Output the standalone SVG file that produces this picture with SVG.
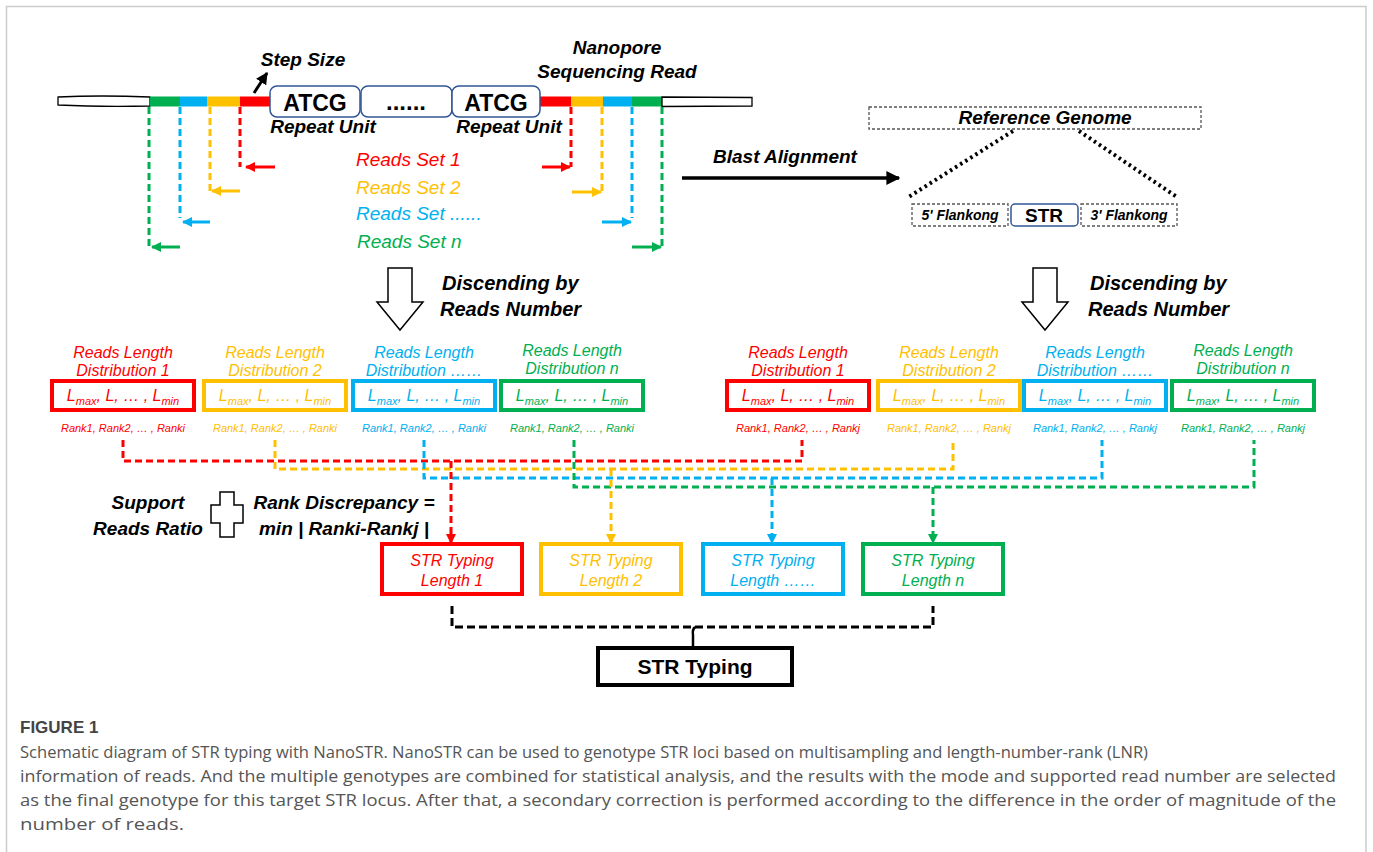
<svg xmlns="http://www.w3.org/2000/svg" width="1373" height="852" viewBox="0 0 1373 852">
<defs>
<style>
text { font-family: "Liberation Sans", Arial, sans-serif; }
.bi { font-weight: bold; font-style: italic; fill: #000; }
.it { font-style: italic; }
.r { fill: #ff0000; } .y { fill: #ffc000; } .b { fill: #00b0f0; } .g { fill: #00b050; }
.sr { stroke: #ff0000; } .sy { stroke: #ffc000; } .sb { stroke: #00b0f0; } .sg { stroke: #00b050; }
.dash { fill: none; stroke-width: 3; stroke-dasharray: 7 4; }
.solid { fill: none; stroke-width: 3; }
.dist { fill: #fff; stroke-width: 4; }
.unit { fill: #fff; stroke: #2f5597; stroke-width: 1.5; }
.gbox { fill: #fff; stroke: #555; stroke-width: 1.3; stroke-dasharray: 3 2; }
.cap { font-family: "Open Sans", "Liberation Sans", sans-serif; fill: #555; font-size: 17px; }
</style>
<marker id="mr" viewBox="0 0 10 10" refX="9" refY="5" markerWidth="10" markerHeight="10" markerUnits="userSpaceOnUse" orient="auto"><path d="M0,0 L10,5 L0,10 z" fill="#ff0000"/></marker>
<marker id="my" viewBox="0 0 10 10" refX="9" refY="5" markerWidth="10" markerHeight="10" markerUnits="userSpaceOnUse" orient="auto"><path d="M0,0 L10,5 L0,10 z" fill="#ffc000"/></marker>
<marker id="mb" viewBox="0 0 10 10" refX="9" refY="5" markerWidth="10" markerHeight="10" markerUnits="userSpaceOnUse" orient="auto"><path d="M0,0 L10,5 L0,10 z" fill="#00b0f0"/></marker>
<marker id="mg" viewBox="0 0 10 10" refX="9" refY="5" markerWidth="10" markerHeight="10" markerUnits="userSpaceOnUse" orient="auto"><path d="M0,0 L10,5 L0,10 z" fill="#00b050"/></marker>
<marker id="mk" viewBox="0 0 10 10" refX="9" refY="5" markerWidth="12" markerHeight="12" markerUnits="userSpaceOnUse" orient="auto"><path d="M0,0 L10,5 L0,10 z" fill="#000"/></marker>
<marker id="mk2" viewBox="0 0 10 10" refX="9" refY="5" markerWidth="16" markerHeight="14" markerUnits="userSpaceOnUse" orient="auto"><path d="M0,0 L10,5 L0,10 z" fill="#000"/></marker>
</defs>
<rect x="0" y="0" width="1373" height="852" fill="#fff"/>
<rect x="6.5" y="6.5" width="1359.5" height="900" fill="none" stroke="#cccccc" stroke-width="1.5"/>

<g id="read">
  <path d="M58,97 Q100,95 150,97 L150,106 Q100,107 58,105 Z" fill="#fff" stroke="#000" stroke-width="1.3"/>
  <rect x="150" y="96.5" width="30" height="10" class="g"/>
  <rect x="180" y="96.5" width="27" height="10" class="b"/>
  <rect x="207" y="96.5" width="33" height="10" class="y"/>
  <rect x="240" y="96.5" width="30" height="10" class="r"/>
  <rect x="540" y="96.5" width="31" height="10" class="r"/>
  <rect x="571" y="96.5" width="32" height="10" class="y"/>
  <rect x="603" y="96.5" width="29" height="10" class="b"/>
  <rect x="632" y="96.5" width="30" height="10" class="g"/>
  <path d="M662,97 L752,97.5 L752,106 L662,106.5 Z" fill="#fff" stroke="#000" stroke-width="1.3"/>
  <rect x="270" y="86" width="90" height="31" rx="7" class="unit"/>
  <rect x="361" y="86" width="91" height="31" rx="7" class="unit"/>
  <rect x="452" y="86" width="88" height="31" rx="7" class="unit"/>
  <text x="315" y="111" font-size="23" font-weight="bold" text-anchor="middle">ATCG</text>
  <text x="406" y="110" font-size="24" font-weight="bold" text-anchor="middle">......</text>
  <text x="496" y="111" font-size="23" font-weight="bold" text-anchor="middle">ATCG</text>
  <text x="323" y="133" font-size="19" class="bi" text-anchor="middle">Repeat Unit</text>
  <text x="509" y="133" font-size="19" class="bi" text-anchor="middle">Repeat Unit</text>
  <text x="303" y="66" font-size="19" class="bi" text-anchor="middle">Step Size</text>
  <line x1="254" y1="93" x2="267" y2="73" stroke="#000" stroke-width="3" marker-end="url(#mk)"/>
  <text x="617" y="54" font-size="19" class="bi" text-anchor="middle">Nanopore</text>
  <text x="617" y="78" font-size="19" class="bi" text-anchor="middle">Sequencing Read</text>
</g>

<g id="reads-sets">
  <text x="356" y="166" font-size="19" class="it r">Reads Set 1</text>
  <text x="356" y="194" font-size="19" class="it y">Reads Set 2</text>
  <text x="356" y="220" font-size="19" class="it b">Reads Set ......</text>
  <text x="357" y="248" font-size="19" class="it g">Reads Set n</text>
</g>

<g id="reference">
  <rect x="869" y="107" width="332" height="22" class="gbox"/>
  <text x="1045" y="124" font-size="19" class="bi" text-anchor="middle">Reference Genome</text>
  <line x1="1013" y1="131" x2="907" y2="198" stroke="#000" stroke-width="4" stroke-dasharray="2.5 3.5"/>
  <line x1="1079" y1="131" x2="1177" y2="197" stroke="#000" stroke-width="4" stroke-dasharray="2.5 3.5"/>
  <rect x="912" y="204" width="96" height="22" class="gbox"/>
  <rect x="1011" y="204" width="67" height="22" rx="4" class="unit"/>
  <rect x="1081" y="204" width="96" height="22" class="gbox"/>
  <text x="960" y="220" font-size="14" class="bi" text-anchor="middle">5' Flankong</text>
  <text x="1044" y="222" font-size="19" font-weight="bold" text-anchor="middle">STR</text>
  <text x="1129" y="220" font-size="14" class="bi" text-anchor="middle">3' Flankong</text>
</g>

<g id="blast">
  <text x="713" y="163" font-size="19" class="bi">Blast Alignment</text>
</g>

<g id="discending-left">
  <polygon points="388,268 412,268 412,302 423,302 400,330 377,302 388,302" fill="#fff" stroke="#000" stroke-width="1.5"/>
  <text x="442" y="290" font-size="20" class="bi">Discending by</text>
  <text x="440" y="316" font-size="20" class="bi">Reads Number</text>
</g>
<g id="discending-right">
  <polygon points="1033,268 1057,268 1057,302 1068,302 1045,330 1022,302 1033,302" fill="#fff" stroke="#000" stroke-width="1.5"/>
  <text x="1090" y="290" font-size="20" class="bi">Discending by</text>
  <text x="1088" y="316" font-size="20" class="bi">Reads Number</text>
</g>

<g id="dist-left">
  <g id="dl1">
    <text x="123" y="358" font-size="16" class="it r" text-anchor="middle">Reads Length</text>
    <text x="123" y="376" font-size="16" class="it r" text-anchor="middle">Distribution 1</text>
    <rect x="52" y="381" width="142" height="29" class="dist sr"/>
    <text x="123" y="401" font-size="16" class="it r" text-anchor="middle">L<tspan font-size="11" dy="4">max</tspan><tspan dy="-4">, L, … , L</tspan><tspan font-size="11" dy="4">min</tspan></text>
    <text x="123" y="432" font-size="11" class="it r" text-anchor="middle">Rank1, Rank2, … , Ranki</text>
  </g>
  <g id="dl2">
    <text x="275" y="358" font-size="16" class="it y" text-anchor="middle">Reads Length</text>
    <text x="275" y="376" font-size="16" class="it y" text-anchor="middle">Distribution 2</text>
    <rect x="204" y="381" width="142" height="29" class="dist sy"/>
    <text x="275" y="401" font-size="16" class="it y" text-anchor="middle">L<tspan font-size="11" dy="4">max</tspan><tspan dy="-4">, L, … , L</tspan><tspan font-size="11" dy="4">min</tspan></text>
    <text x="275" y="432" font-size="11" class="it y" text-anchor="middle">Rank1, Rank2, … , Ranki</text>
  </g>
  <g id="dl3">
    <text x="424" y="358" font-size="16" class="it b" text-anchor="middle">Reads Length</text>
    <text x="424" y="376" font-size="16" class="it b" text-anchor="middle">Distribution ……</text>
    <rect x="353" y="381" width="142" height="29" class="dist sb"/>
    <text x="424" y="401" font-size="16" class="it b" text-anchor="middle">L<tspan font-size="11" dy="4">max</tspan><tspan dy="-4">, L, … , L</tspan><tspan font-size="11" dy="4">min</tspan></text>
    <text x="424" y="432" font-size="11" class="it b" text-anchor="middle">Rank1, Rank2, … , Ranki</text>
  </g>
  <g id="dl4">
    <text x="572" y="356" font-size="16" class="it g" text-anchor="middle">Reads Length</text>
    <text x="572" y="374" font-size="16" class="it g" text-anchor="middle">Distribution n</text>
    <rect x="501" y="381" width="142" height="29" class="dist sg"/>
    <text x="572" y="401" font-size="16" class="it g" text-anchor="middle">L<tspan font-size="11" dy="4">max</tspan><tspan dy="-4">, L, … , L</tspan><tspan font-size="11" dy="4">min</tspan></text>
    <text x="572" y="432" font-size="11" class="it g" text-anchor="middle">Rank1, Rank2, … , Ranki</text>
  </g>
</g>

<g id="dist-right">
  <g id="dr1">
    <text x="798" y="358" font-size="16" class="it r" text-anchor="middle">Reads Length</text>
    <text x="798" y="376" font-size="16" class="it r" text-anchor="middle">Distribution 1</text>
    <rect x="727" y="381" width="142" height="29" class="dist sr"/>
    <text x="798" y="401" font-size="16" class="it r" text-anchor="middle">L<tspan font-size="11" dy="4">max</tspan><tspan dy="-4">, L, … , L</tspan><tspan font-size="11" dy="4">min</tspan></text>
    <text x="798" y="432" font-size="11" class="it r" text-anchor="middle">Rank1, Rank2, … , Rankj</text>
  </g>
  <g id="dr2">
    <text x="949" y="358" font-size="16" class="it y" text-anchor="middle">Reads Length</text>
    <text x="949" y="376" font-size="16" class="it y" text-anchor="middle">Distribution 2</text>
    <rect x="878" y="381" width="142" height="29" class="dist sy"/>
    <text x="949" y="401" font-size="16" class="it y" text-anchor="middle">L<tspan font-size="11" dy="4">max</tspan><tspan dy="-4">, L, … , L</tspan><tspan font-size="11" dy="4">min</tspan></text>
    <text x="949" y="432" font-size="11" class="it y" text-anchor="middle">Rank1, Rank2, … , Rankj</text>
  </g>
  <g id="dr3">
    <text x="1095" y="358" font-size="16" class="it b" text-anchor="middle">Reads Length</text>
    <text x="1095" y="376" font-size="16" class="it b" text-anchor="middle">Distribution ……</text>
    <rect x="1024" y="381" width="142" height="29" class="dist sb"/>
    <text x="1095" y="401" font-size="16" class="it b" text-anchor="middle">L<tspan font-size="11" dy="4">max</tspan><tspan dy="-4">, L, … , L</tspan><tspan font-size="11" dy="4">min</tspan></text>
    <text x="1095" y="432" font-size="11" class="it b" text-anchor="middle">Rank1, Rank2, … , Rankj</text>
  </g>
  <g id="dr4">
    <text x="1243" y="356" font-size="16" class="it g" text-anchor="middle">Reads Length</text>
    <text x="1243" y="374" font-size="16" class="it g" text-anchor="middle">Distribution n</text>
    <rect x="1172" y="381" width="142" height="29" class="dist sg"/>
    <text x="1243" y="401" font-size="16" class="it g" text-anchor="middle">L<tspan font-size="11" dy="4">max</tspan><tspan dy="-4">, L, … , L</tspan><tspan font-size="11" dy="4">min</tspan></text>
    <text x="1243" y="432" font-size="11" class="it g" text-anchor="middle">Rank1, Rank2, … , Rankj</text>
  </g>
</g>

<g id="support">
  <text x="148" y="509" font-size="19" class="bi" text-anchor="middle">Support</text>
  <text x="148" y="535" font-size="19" class="bi" text-anchor="middle">Reads Ratio</text>
  <polygon points="220,492 234,492 234,505 243,505 243,523 234,523 234,537 220,537 220,523 211,523 211,505 220,505" fill="#fff" stroke="#000" stroke-width="1.5"/>
  <text x="344" y="509" font-size="19" class="bi" text-anchor="middle">Rank Discrepancy =</text>
  <text x="344" y="535" font-size="19" class="bi" text-anchor="middle">min | Ranki-Rankj |</text>
</g>

<g id="typing-boxes">
  <g id="t1">
    <rect x="382" y="544" width="140" height="50" class="dist sr"/>
    <text x="452" y="566" font-size="16" class="it r" text-anchor="middle">STR Typing</text>
    <text x="452" y="586" font-size="16" class="it r" text-anchor="middle">Length 1</text>
  </g>
  <g id="t2">
    <rect x="541" y="544" width="140" height="50" class="dist sy"/>
    <text x="611" y="566" font-size="16" class="it y" text-anchor="middle">STR Typing</text>
    <text x="611" y="586" font-size="16" class="it y" text-anchor="middle">Length 2</text>
  </g>
  <g id="t3">
    <rect x="703" y="544" width="140" height="50" class="dist sb"/>
    <text x="773" y="566" font-size="16" class="it b" text-anchor="middle">STR Typing</text>
    <text x="773" y="586" font-size="16" class="it b" text-anchor="middle">Length ……</text>
  </g>
  <g id="t4">
    <rect x="863" y="544" width="140" height="50" class="dist sg"/>
    <text x="933" y="566" font-size="16" class="it g" text-anchor="middle">STR Typing</text>
    <text x="933" y="586" font-size="16" class="it g" text-anchor="middle">Length n</text>
  </g>
</g>

<g id="final">
  <rect x="598" y="648" width="194" height="37" fill="#fff" stroke="#000" stroke-width="4"/>
  <text x="695" y="674" font-size="21" font-weight="bold" text-anchor="middle">STR Typing</text>
</g>

<g id="connectors">
  <!-- left read set arrows -->
  <path d="M240,107 V167" class="dash sr"/>
  <line x1="275" y1="167" x2="246" y2="167" class="solid sr" marker-end="url(#mr)"/>
  <path d="M210,107 V192" class="dash sy"/>
  <line x1="240" y1="191" x2="212" y2="191" class="solid sy" marker-end="url(#my)"/>
  <path d="M180,107 V218" class="dash sb"/>
  <line x1="210" y1="222" x2="183" y2="222" class="solid sb" marker-end="url(#mb)"/>
  <path d="M149,107 V248" class="dash sg"/>
  <line x1="180" y1="247" x2="152" y2="247" class="solid sg" marker-end="url(#mg)"/>
  <!-- right read set arrows -->
  <path d="M571,107 V167" class="dash sr"/>
  <line x1="542" y1="167" x2="570" y2="167" class="solid sr" marker-end="url(#mr)"/>
  <path d="M602,107 V192" class="dash sy"/>
  <line x1="572" y1="192" x2="601" y2="192" class="solid sy" marker-end="url(#my)"/>
  <path d="M632,107 V218" class="dash sb"/>
  <line x1="602" y1="222" x2="631" y2="222" class="solid sb" marker-end="url(#mb)"/>
  <path d="M662,107 V247" class="dash sg"/>
  <line x1="632" y1="247" x2="661" y2="247" class="solid sg" marker-end="url(#mg)"/>
  <!-- blast alignment -->
  <line x1="682" y1="178" x2="899" y2="178" stroke="#000" stroke-width="3.5" marker-end="url(#mk2)"/>
  <!-- rank matching -->
  <path d="M123,440 V461 H802 V440" class="dash sr"/>
  <path d="M275,440 V469 H953 V440" class="dash sy"/>
  <path d="M424,440 V478 H1102 V440" class="dash sb"/>
  <path d="M574,440 V487 H1254 V440" class="dash sg"/>
  <path d="M451,461 V543" class="dash sr" marker-end="url(#mr)"/>
  <path d="M611,469 V543" class="dash sy" marker-end="url(#my)"/>
  <path d="M772,478 V543" class="dash sb" marker-end="url(#mb)"/>
  <path d="M933,487 V543" class="dash sg" marker-end="url(#mg)"/>
  <!-- combine -->
  <path d="M452,606 V627 H933 V606" fill="none" stroke="#000" stroke-width="3" stroke-dasharray="8 4"/>
  <path d="M695,627 q-3,3 -2,8 V648" fill="none" stroke="#000" stroke-width="2.5"/>
</g>

<g id="caption">
  <text x="20" y="733" font-size="17" font-weight="bold" fill="#444" font-family="Open Sans, Liberation Sans, sans-serif">FIGURE 1</text>
  <text x="20" y="758" class="cap" textLength="1128" lengthAdjust="spacingAndGlyphs">Schematic diagram of STR typing with NanoSTR. NanoSTR can be used to genotype STR loci based on multisampling and length-number-rank (LNR)</text>
  <text x="20" y="782" class="cap" textLength="1316" lengthAdjust="spacingAndGlyphs">information of reads. And the multiple genotypes are combined for statistical analysis, and the results with the mode and supported read number are selected</text>
  <text x="20" y="806" class="cap" textLength="1316" lengthAdjust="spacingAndGlyphs">as the final genotype for this target STR locus. After that, a secondary correction is performed according to the difference in the order of magnitude of the</text>
  <text x="20" y="830" class="cap" textLength="164" lengthAdjust="spacingAndGlyphs">number of reads.</text>
</g>
</svg>
